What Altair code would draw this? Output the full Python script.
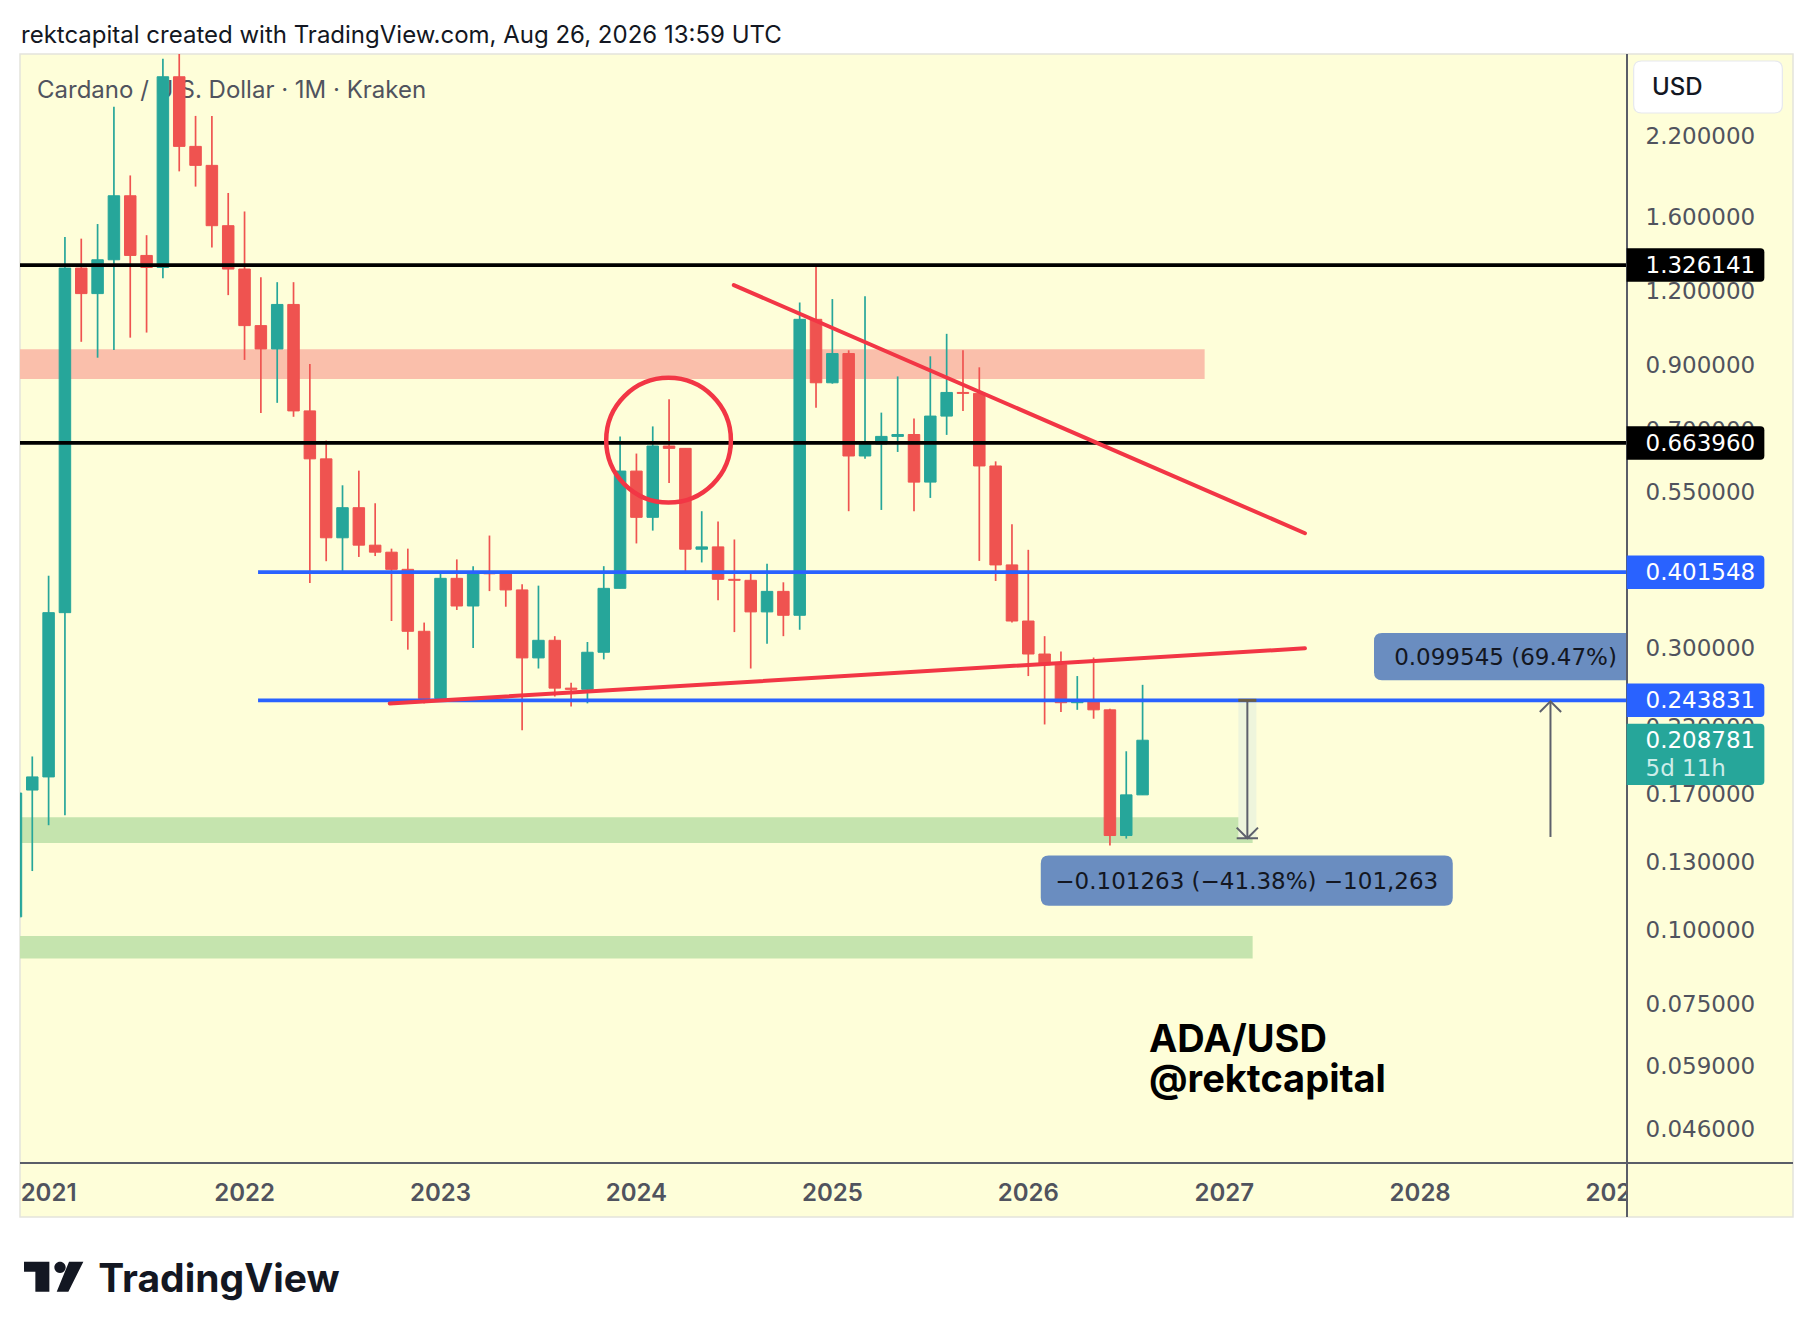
import altair as alt
import pandas as pd

# ---------------- data ----------------
# monthly candles, index 0 = Jan 2021 (Nov 2020 .. Aug 2026)
MONTH_INDEX = list(range(-2, 68))
OPEN = [0.105, 0.172, 0.181, 0.343, 1.311, 1.187, 1.354, 1.737, 1.377, 1.314,
        2.76, 2.105, 1.955, 1.546, 1.306, 1.048, 0.957, 1.138, 0.752, 0.624,
        0.459, 0.516, 0.446, 0.434, 0.406, 0.319, 0.2456, 0.392, 0.352, 0.401,
        0.399, 0.3747, 0.2876, 0.308, 0.2557, 0.2545, 0.294, 0.377, 0.595, 0.497,
        0.656, 0.650, 0.439, 0.443, 0.3905, 0.389, 0.344, 0.3726, 0.3395, 1.074,
        0.839, 0.940, 0.631, 0.661, 0.681, 0.686, 0.570, 0.737, 0.808, 0.805,
        0.607, 0.413, 0.332, 0.292, 0.280, 0.2416, 0.2436, 0.235, 0.1441, 0.1688]
HIGH = [0.173, 0.196, 0.396, 1.48, 1.47, 1.556, 2.457, 1.88, 1.49, 2.96,
        3.10, 2.37, 2.37, 1.756, 1.634, 1.265, 1.241, 1.241, 0.903, 0.670,
        0.563, 0.596, 0.525, 0.440, 0.440, 0.330, 0.401, 0.422, 0.411, 0.463,
        0.401, 0.383, 0.381, 0.313, 0.261, 0.306, 0.411, 0.681, 0.637, 0.708,
        0.787, 0.650, 0.509, 0.489, 0.456, 0.401, 0.415, 0.386, 1.147, 1.326,
        1.162, 0.952, 1.175, 0.747, 0.860, 0.730, 0.930, 1.015, 0.952, 0.891,
        0.618, 0.484, 0.438, 0.313, 0.295, 0.268, 0.288, 0.236, 0.200, 0.259]
LOW = [0.093, 0.1255, 0.150, 0.156, 0.984, 0.925, 0.953, 1.00, 1.02, 1.26,
       1.91, 1.80, 1.42, 1.18, 0.917, 0.746, 0.776, 0.735, 0.385, 0.419,
       0.403, 0.426, 0.4275, 0.332, 0.297, 0.241, 0.2456, 0.3466, 0.299, 0.373,
       0.351, 0.217, 0.276, 0.2475, 0.238, 0.241, 0.286, 0.377, 0.449, 0.472,
       0.568, 0.400, 0.417, 0.360, 0.318, 0.276, 0.304, 0.313, 0.321, 0.761,
       0.836, 0.509, 0.624, 0.5115, 0.641, 0.509, 0.536, 0.685, 0.752, 0.4195,
       0.388, 0.330, 0.268, 0.222, 0.233, 0.235, 0.227, 0.1386, 0.1424, 0.1688]
CLOSE = [0.170, 0.181, 0.343, 1.311, 1.187, 1.354, 1.737, 1.377, 1.314, 2.76,
         2.105, 1.955, 1.546, 1.306, 1.048, 0.957, 1.138, 0.752, 0.624, 0.459,
         0.516, 0.446, 0.434, 0.406, 0.319, 0.2456, 0.392, 0.352, 0.401, 0.399,
         0.3747, 0.2876, 0.308, 0.2557, 0.2545, 0.294, 0.377, 0.595, 0.497, 0.656,
         0.650, 0.439, 0.443, 0.3905, 0.389, 0.344, 0.3726, 0.3395, 1.074, 0.839,
         0.940, 0.631, 0.661, 0.681, 0.686, 0.570, 0.737, 0.808, 0.805, 0.607,
         0.413, 0.332, 0.292, 0.280, 0.2416, 0.2436, 0.235, 0.1441, 0.1688, 0.208781]

BLACK_LEVELS = [1.326141, 0.663960]
BLUE_LEVELS = [0.401548, 0.243831]
BLUE_START = 2022.069

ZONE_X0 = [2020.854, 2020.854, 2020.854]
ZONE_X1 = [2026.90, 2027.145, 2027.145]
ZONE_TOP = [0.956, 0.1547, 0.0975]
ZONE_BOTTOM = [0.851, 0.1400, 0.0893]
ZONE_FILL = ["#FABFAB", "#C5E4AE", "#C5E4AE"]

TREND_ID = ["desc", "desc", "asc", "asc"]
TREND_X = [2024.497, 2027.412, 2022.741, 2027.412]
TREND_Y = [1.2267, 0.4672, 0.2409, 0.2986]

CIRCLE_X = [2024.164]
CIRCLE_Y = [0.671]

MEAS_DOWN = {"x": 2027.118, "from": 0.243831, "to": 0.142568}
MEAS_UP = {"x": 2028.665, "from": 0.14329, "to": 0.242835}
MEAS_DOWN_LABEL = "\u22120.101263 (\u221241.38%) \u2212101,263"
MEAS_UP_LABEL = "0.099545 (69.47%)"
DOWN_BOX_CENTER = (2027.115, 0.1209)
UP_BOX_CENTER = (2028.41, 0.2891)

PRICE_TICKS = [2.2, 1.6, 1.2, 0.9, 0.7, 0.55, 0.3, 0.22, 0.17, 0.13, 0.1, 0.075, 0.059, 0.046]
YEAR_TICKS = [2021, 2022, 2023, 2024, 2025, 2026, 2027, 2028, 2029]
LAST_PRICE = 0.208781
WATERMARK = "ADA/USD\n@rektcapital"

# ---------------- styling ----------------
TEAL = "#26A69A"
RED = "#EF5350"
TREND_RED = "#F23645"
BLUE = "#2962FF"
BG = "#FEFED9"
AXIS_TXT = "#50535E"
DARK = "#131722"
BOX = "#6A8DC0"
GRAY = "#5D606B"
FONT = "Inter"
NUM_FONT = "DejaVu Sans"

W, H = 1607, 1109
PANEL_R, PANEL_B = 1773, 1163
X_DOMAIN = [2020.854, 2029.0556]
Y_DOMAIN = [0.040295, 3.0155]

xs = alt.Scale(domain=X_DOMAIN, nice=False, zero=False, padding=0)
ys = alt.Scale(type="log", domain=Y_DOMAIN, nice=False, padding=0)


def X(f):
    return alt.X(f"{f}:Q", scale=xs, axis=None)


def Y(f):
    return alt.Y(f"{f}:Q", scale=ys, axis=None)


def one():
    return pd.DataFrame({"a": [0]})


def box_path(w, top, bottom, rl, rr):
    hw = w / 2.0
    T, B = top / hw, bottom / hw
    a, b = rl / hw, rr / hw
    f = lambda v: f"{v:.4f}"
    p = (f"M{f(-1 + a)},{f(T)}L{f(1 - b)},{f(T)}Q1,{f(T)} 1,{f(T + b)}"
         f"L1,{f(B - b)}Q1,{f(B)} {f(1 - b)},{f(B)}L{f(-1 + a)},{f(B)}"
         f"Q-1,{f(B)} -1,{f(B - a)}L-1,{f(T + a)}Q-1,{f(T)} {f(-1 + a)},{f(T)}Z")
    return p, w * w


layers = []

# background panel
layers.append(alt.Chart(one()).mark_rect(fill=BG, stroke="#E4E4DC", strokeWidth=1.5).encode(
    x=alt.value(0), x2=alt.value(PANEL_R), y=alt.value(0), y2=alt.value(PANEL_B)))

# header + legend
layers.append(alt.Chart(pd.DataFrame({"t": ["rektcapital created with TradingView.com, Aug 26, 2026 13:59 UTC"]}))
              .mark_text(align="left", baseline="middle", font=FONT, fontSize=24, color=DARK)
              .encode(x=alt.value(1), y=alt.value(-18), text="t:N"))
layers.append(alt.Chart(pd.DataFrame({"t": ["Cardano / U.S. Dollar \u00b7 1M \u00b7 Kraken"]}))
              .mark_text(align="left", baseline="middle", font=FONT, fontSize=24, color=AXIS_TXT)
              .encode(x=alt.value(17), y=alt.value(37), text="t:N"))

# zones
zones = pd.DataFrame({"x0": ZONE_X0, "x1": ZONE_X1, "y0": ZONE_TOP, "y1": ZONE_BOTTOM, "fill": ZONE_FILL})
layers.append(alt.Chart(zones).mark_rect(clip=True).encode(
    x=X("x0"), x2="x1:Q", y=Y("y0"), y2="y1:Q", color=alt.Color("fill:N", scale=None)))

# measurement shaded column
meas_col = pd.DataFrame({"x0": [MEAS_DOWN["x"] - 0.046], "x1": [MEAS_DOWN["x"] + 0.046],
                         "y0": [MEAS_DOWN["from"]], "y1": [MEAS_DOWN["to"]]})
layers.append(alt.Chart(meas_col).mark_rect(color="#EEF5DC").encode(
    x=X("x0"), x2="x1:Q", y=Y("y0"), y2="y1:Q"))

# candles
candles = pd.DataFrame({"t": [2021 + m / 12 for m in MONTH_INDEX], "o": OPEN, "h": HIGH, "l": LOW, "c": CLOSE})
candles["col"] = [TEAL if c >= o else RED for o, c in zip(OPEN, CLOSE)]
layers.append(alt.Chart(candles).mark_rule(strokeWidth=1.7, clip=True).encode(
    x=X("t"), y=Y("l"), y2="h:Q", color=alt.Color("col:N", scale=None)))
layers.append(alt.Chart(candles).mark_bar(size=11.5, clip=True, strokeWidth=1).encode(
    x=X("t"), y=Y("o"), y2="c:Q", color=alt.Color("col:N", scale=None),
    stroke=alt.Stroke("col:N", scale=None)))

# horizontal levels
layers.append(alt.Chart(pd.DataFrame({"p": BLACK_LEVELS})).mark_rule(color="#000000", strokeWidth=3.6).encode(
    y=Y("p")))
blue_df = pd.DataFrame({"p": BLUE_LEVELS, "x0": [BLUE_START] * 2, "x1": [X_DOMAIN[1]] * 2})
layers.append(alt.Chart(blue_df).mark_rule(color=BLUE, strokeWidth=3.6).encode(
    x=X("x0"), x2="x1:Q", y=Y("p")))

# trendlines
trend = pd.DataFrame({"id": TREND_ID, "x": TREND_X, "y": TREND_Y})
layers.append(alt.Chart(trend).mark_line(color=TREND_RED, strokeWidth=4, strokeCap="round").encode(
    x=X("x"), y=Y("y"), detail="id:N"))

# circle
layers.append(alt.Chart(pd.DataFrame({"x": CIRCLE_X, "y": CIRCLE_Y})).mark_point(
    shape="circle", size=15550, filled=False, strokeWidth=4.5, color=TREND_RED, opacity=1).encode(
    x=X("x"), y=Y("y")))

# measurement arrows
down_df = pd.DataFrame({"x": [MEAS_DOWN["x"]], "y0": [MEAS_DOWN["from"]], "y1": [MEAS_DOWN["to"]],
                        "x0": [MEAS_DOWN["x"] - 0.046], "x1": [MEAS_DOWN["x"] + 0.046]})
layers.append(alt.Chart(down_df).mark_rule(color=GRAY, strokeWidth=2).encode(x=X("x"), y=Y("y0"), y2="y1:Q"))
layers.append(alt.Chart(down_df).mark_rule(color="#6B5E45", strokeWidth=3).encode(x=X("x0"), x2="x1:Q", y=Y("y0")))
layers.append(alt.Chart(down_df).mark_point(shape="M-1,-1L0,0L1,-1M-1,0L1,0", size=454, filled=False,
                                            color=GRAY, strokeWidth=2, opacity=1).encode(x=X("x"), y=Y("y1")))
up_df = pd.DataFrame({"x": [MEAS_UP["x"]], "y0": [MEAS_UP["from"]], "y1": [MEAS_UP["to"]]})
layers.append(alt.Chart(up_df).mark_rule(color=GRAY, strokeWidth=2).encode(x=X("x"), y=Y("y0"), y2="y1:Q"))
layers.append(alt.Chart(up_df).mark_point(shape="M-1,1L0,0L1,1", size=454, filled=False,
                                          color=GRAY, strokeWidth=2, opacity=1).encode(x=X("x"), y=Y("y1")))

# measurement label boxes
p_down, s_down = box_path(412, -25, 25, 8, 8)
p_up, s_up = box_path(253, -23.7, 23.7, 8, 0)
dbox = pd.DataFrame({"x": [DOWN_BOX_CENTER[0]], "y": [DOWN_BOX_CENTER[1]], "t": [MEAS_DOWN_LABEL]})
ubox = pd.DataFrame({"x": [UP_BOX_CENTER[0]], "y": [UP_BOX_CENTER[1]], "t": [MEAS_UP_LABEL]})
layers.append(alt.Chart(dbox).mark_point(shape=p_down, size=s_down, filled=True, color=BOX, opacity=1,
                                         strokeWidth=0).encode(x=X("x"), y=Y("y")))
layers.append(alt.Chart(dbox).mark_text(font=NUM_FONT, fontSize=23, color=DARK, baseline="middle", dy=1).encode(
    x=X("x"), y=Y("y"), text="t:N"))
layers.append(alt.Chart(ubox).mark_point(shape=p_up, size=s_up, filled=True, color=BOX, opacity=1,
                                         strokeWidth=0).encode(x=X("x"), y=Y("y")))
layers.append(alt.Chart(ubox).mark_text(font=NUM_FONT, fontSize=23, color=DARK, baseline="middle",
                                        dx=5, dy=1).encode(x=X("x"), y=Y("y"), text="t:N"))

# watermark (two lines in one text)
layers.append(alt.Chart(pd.DataFrame({"t": [WATERMARK]})).mark_text(
    align="left", baseline="middle", font=FONT, fontSize=38, fontWeight=700, color="#000000",
    lineBreak="\n", lineHeight=40).encode(
    x=alt.value(1129), y=alt.value(987), text="t:N"))

# year labels (time axis)
years = pd.DataFrame({"yr": YEAR_TICKS, "t": [str(y) for y in YEAR_TICKS]})
layers.append(alt.Chart(years).mark_text(font=FONT, fontSize=24, fontWeight=600, color=AXIS_TXT,
                                         baseline="middle").encode(
    x=X("yr"), y=alt.value(1140), text="t:N"))
layers.append(alt.Chart(one()).mark_rect(color=BG).encode(
    x=alt.value(W + 1), x2=alt.value(PANEL_R - 1), y=alt.value(H + 1), y2=alt.value(PANEL_B - 1)))

# axis lines
layers.append(alt.Chart(one()).mark_rule(color="#5A5D68", strokeWidth=2).encode(
    x=alt.value(W), y=alt.value(0), y2=alt.value(PANEL_B)))
layers.append(alt.Chart(one()).mark_rule(color="#5A5D68", strokeWidth=2).encode(
    x=alt.value(0), x2=alt.value(PANEL_R), y=alt.value(H)))

# price tick labels
ticks = pd.DataFrame({"v": PRICE_TICKS, "t": [f"{v:.6f}" for v in PRICE_TICKS]})
layers.append(alt.Chart(ticks).mark_text(align="left", baseline="middle", font=NUM_FONT, fontSize=23,
                                         color=AXIS_TXT, dy=1.5).encode(
    x=alt.value(1625.5), y=Y("v"), text="t:N"))

# price label boxes
p_lab, s_lab = box_path(137.7, -16.75, 16.75, 0, 4)
labels = pd.DataFrame({"p": BLACK_LEVELS + BLUE_LEVELS,
                       "bg": ["#000000", "#000000", BLUE, BLUE],
                       "t": [f"{v:.6f}" for v in BLACK_LEVELS + BLUE_LEVELS]})
layers.append(alt.Chart(labels).mark_point(shape=p_lab, size=s_lab, filled=True, opacity=1, strokeWidth=0).encode(
    x=alt.value(1675.5), y=Y("p"), fill=alt.Fill("bg:N", scale=None)))
layers.append(alt.Chart(labels).mark_text(align="left", baseline="middle", font=NUM_FONT, fontSize=23,
                                          color="#FFFFFF", dy=1).encode(
    x=alt.value(1625.5), y=Y("p"), text="t:N"))

p_last, s_last = box_path(137.7, -16.5, 44.7, 0, 4)
last = pd.DataFrame({"p": [LAST_PRICE], "t": [f"{LAST_PRICE:.6f}"], "c": ["5d 11h"]})
layers.append(alt.Chart(last).mark_point(shape=p_last, size=s_last, filled=True, opacity=1, strokeWidth=0,
                                         color=TEAL).encode(x=alt.value(1675.5), y=Y("p")))
layers.append(alt.Chart(last).mark_text(align="left", baseline="middle", font=NUM_FONT, fontSize=23,
                                        color="#FFFFFF", dy=1).encode(x=alt.value(1625.5), y=Y("p"), text="t:N"))
layers.append(alt.Chart(last).mark_text(align="left", baseline="middle", font=NUM_FONT, fontSize=23,
                                        color="#CDEDE9", dy=29).encode(x=alt.value(1625.5), y=Y("p"), text="c:N"))

# USD box
p_usd, s_usd = box_path(148.7, -26, 26, 8, 8)
layers.append(alt.Chart(one()).mark_point(shape=p_usd, size=s_usd, filled=True, opacity=1, fill="#FFFFFF",
                                          stroke="#E6E8EE", strokeWidth=1.2).encode(
    x=alt.value(1688), y=alt.value(33)))
layers.append(alt.Chart(pd.DataFrame({"t": ["USD"]})).mark_text(
    align="left", baseline="middle", font=FONT, fontSize=24, fontWeight=500, color=DARK).encode(
    x=alt.value(1632), y=alt.value(34), text="t:N"))

# TradingView logo
logo_path = ("M-1,-0.506L-0.146,-0.506L-0.146,0.506L-0.618,0.506L-0.618,-0.169L-1,-0.169Z"
             "M0.404,-0.315C0.404,-0.2095 0.3185,-0.124 0.213,-0.124C0.1075,-0.124 0.022,-0.2095 0.022,-0.315"
             "C0.022,-0.4205 0.1075,-0.506 0.213,-0.506C0.3185,-0.506 0.404,-0.4205 0.404,-0.315Z"
             "M0.517,-0.506L1,-0.506L0.494,0.506L0.101,0.506Z")
layers.append(alt.Chart(one()).mark_point(shape=logo_path, size=3520, filled=True, opacity=1,
                                          color=DARK, strokeWidth=0).encode(
    x=alt.value(33.7), y=alt.value(1222.7)))
layers.append(alt.Chart(pd.DataFrame({"t": ["TradingView"]})).mark_text(
    align="left", baseline="alphabetic", font=FONT, fontSize=39, fontWeight=700, color=DARK).encode(
    x=alt.value(78.3), y=alt.value(1237.7), text="t:N"))

chart = alt.layer(*layers).properties(
    width=W, height=H,
    padding={"left": 12, "top": 46, "right": 178, "bottom": 150},
    autosize=alt.AutoSizeParams(type="none"),
    background="#FFFFFF",
).configure_view(stroke=None)

chart.save("out.html", embed_options={"renderer": "svg", "actions": False})
